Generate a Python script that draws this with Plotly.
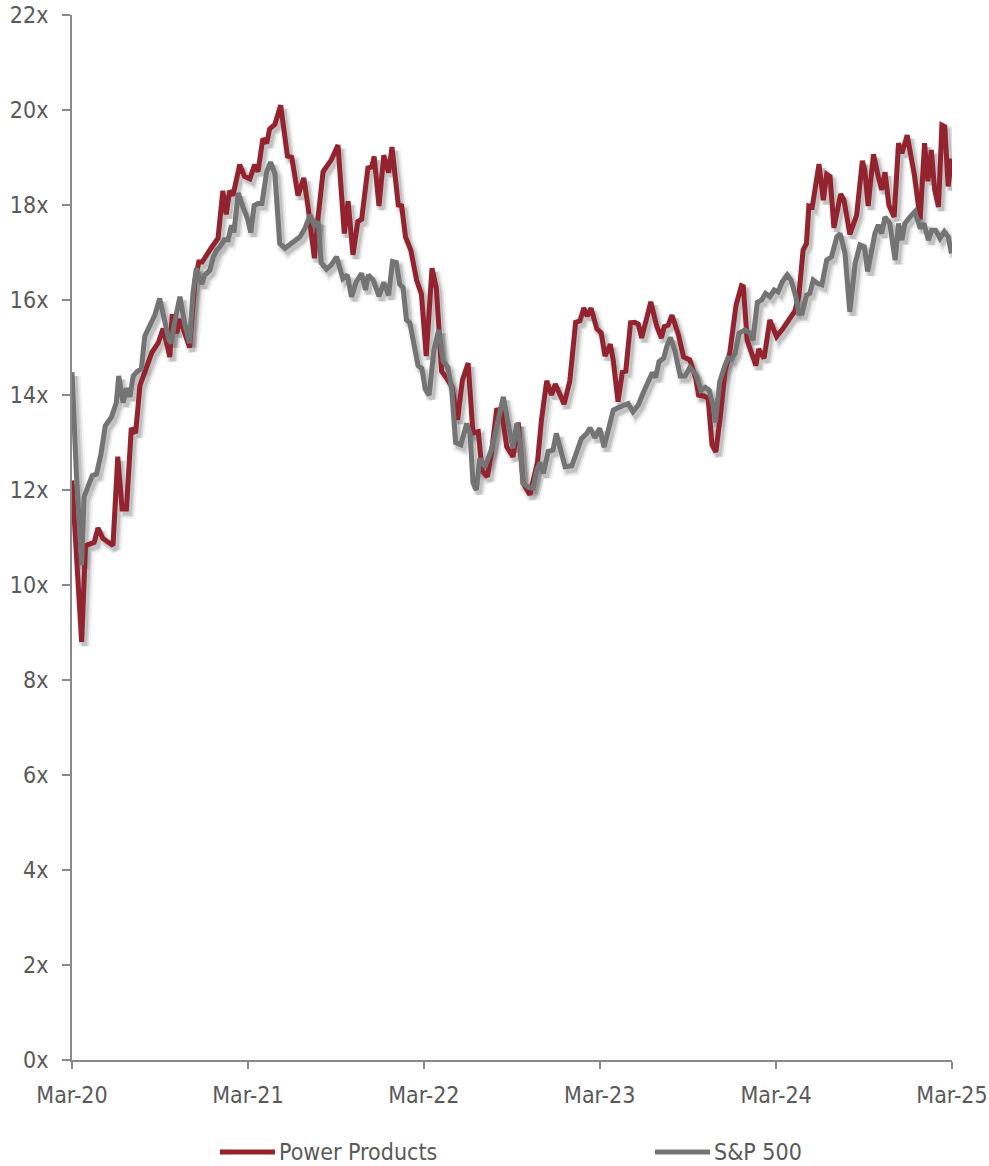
import pandas as pd
import plotly.graph_objects as go

# Forward P/E multiples, weekly-ish observations (days counted from 1 Mar 2020)
START = pd.Timestamp("2020-03-01")
END = pd.Timestamp("2025-03-01")

pp_days = [0, 20, 28, 46, 54, 64, 85, 95, 104, 113, 123, 132, 141, 151, 166, 179, 189, 203,
           208, 217, 224, 244, 255, 263, 270, 289, 303, 313, 320, 327, 334, 348, 358, 369, 379,
           386, 396, 404, 410, 421, 433, 447, 456, 469, 481, 490, 503, 511, 521, 538, 552, 565,
           573, 583, 593, 601, 614, 622, 627, 637, 647, 657, 664, 677, 684, 692, 703, 715, 725,
           735, 747, 756, 767, 777, 788, 800, 810, 822, 832, 843, 851, 862, 871, 881, 891, 902,
           915, 926, 936, 950, 966, 974, 985, 995, 1003, 1021, 1033, 1045, 1054, 1062, 1069,
           1077, 1089, 1098, 1106, 1117, 1123, 1133, 1142, 1149, 1159, 1168, 1175, 1182, 1192,
           1201, 1213, 1223, 1229, 1237, 1245, 1258, 1269, 1282, 1294, 1300, 1311, 1320, 1328,
           1336, 1345, 1355, 1365, 1378, 1389, 1393, 1401, 1410, 1419, 1425, 1436, 1448, 1462,
           1476, 1490, 1500, 1508, 1517, 1524, 1529, 1536, 1550, 1559, 1566, 1573, 1581, 1595,
           1602, 1614, 1628, 1640, 1645, 1652, 1663, 1673, 1680, 1687, 1695, 1706, 1715, 1722,
           1733, 1748, 1760, 1769, 1776, 1783, 1790, 1798, 1805, 1811, 1818, 1825]
pp_vals = [12.2, 8.8, 10.83, 10.9, 11.2, 10.98, 10.83, 12.7, 11.6, 11.6, 13.3, 13.2, 14.2, 14.5,
           14.9, 15.1, 15.4, 14.8, 15.7, 15.3, 15.6, 15.0, 16.4, 16.8, 16.8, 17.1, 17.3, 18.3,
           17.8, 18.3, 18.2, 18.85, 18.6, 18.55, 18.85, 18.7, 19.4, 19.3, 19.6, 19.7, 20.1, 19.03,
           19.0, 18.2, 18.57, 17.95, 16.88, 17.78, 18.7, 18.95, 19.26, 17.4, 18.08, 16.95, 17.65,
           17.7, 18.78, 18.8, 19.02, 17.98, 19.05, 18.68, 19.22, 18.0, 17.98, 17.33, 17.05, 16.42,
           16.13, 14.82, 16.67, 16.25, 14.5, 14.36, 14.18, 13.48, 14.31, 14.67, 13.2, 13.23, 12.4,
           12.28, 12.84, 13.68, 13.7, 12.91, 12.7, 13.42, 12.15, 11.9, 12.6, 13.47, 14.3, 14.0,
           14.23, 13.81, 14.3, 15.53, 15.56, 15.83, 15.66, 15.83, 15.39, 15.31, 14.82, 15.07,
           14.74, 13.86, 14.48, 14.5, 15.52, 15.53, 15.49, 15.2, 15.65, 15.96, 15.46, 15.2, 15.44,
           15.47, 15.68, 15.28, 14.8, 14.74, 14.36, 14.0, 13.98, 13.93, 12.95, 12.8, 13.54, 14.5,
           14.9, 15.9, 16.3, 16.28, 15.15, 14.88, 14.62, 14.97, 14.77, 15.58, 15.23, 15.41, 15.65,
           15.77, 16.07, 17.05, 17.19, 17.98, 17.96, 18.86, 18.1, 18.65, 18.6, 17.52, 18.23, 18.1,
           17.38, 17.78, 18.93, 18.74, 17.98, 19.07, 18.6, 18.32, 18.69, 18.0, 17.75, 19.3, 19.09,
           19.47, 18.63, 17.7, 19.3, 18.5, 19.16, 18.32, 17.96, 19.68, 19.65, 18.39, 18.98]

sp_days = [0, 9, 20, 25, 33, 42, 51, 60, 69, 82, 92, 97, 106, 113, 120, 127, 134, 144, 151, 161,
           172, 182, 191, 201, 206, 213, 224, 234, 244, 251, 258, 269, 275, 286, 293, 300, 307,
           316, 324, 331, 336, 345, 355, 364, 371, 378, 386, 394, 404, 412, 421, 431, 442, 452,
           462, 473, 483, 494, 503, 511, 517, 528, 538, 549, 562, 571, 580, 590, 601, 609, 615,
           625, 637, 647, 657, 665, 673, 680, 687, 694, 701, 710, 718, 726, 733, 741, 751, 761,
           770, 780, 788, 796, 807, 819, 826, 832, 839, 846, 857, 871, 884, 895, 905, 915, 923,
           931, 936, 948, 957, 964, 971, 978, 988, 998, 1005, 1015, 1023, 1037, 1047, 1057, 1068,
           1075, 1085, 1095, 1104, 1113, 1123, 1133, 1144, 1154, 1164, 1175, 1185, 1196, 1204,
           1211, 1218, 1228, 1234, 1242, 1251, 1262, 1272, 1282, 1295, 1305, 1314, 1322, 1331,
           1335, 1344, 1354, 1361, 1368, 1376, 1384, 1396, 1407, 1413, 1422, 1431, 1439, 1448,
           1457, 1465, 1474, 1484, 1492, 1502, 1508, 1515, 1524, 1531, 1538, 1547, 1556, 1566,
           1576, 1587, 1594, 1604, 1614, 1625, 1635, 1644, 1651, 1659, 1666, 1673, 1680, 1687,
           1697, 1708, 1715, 1722, 1728, 1739, 1749, 1760, 1768, 1777, 1784, 1792, 1801, 1810,
           1818, 1825]
sp_vals = [14.48, 12.37, 10.42, 11.85, 12.07, 12.3, 12.34, 12.75, 13.35, 13.54, 13.84, 14.4,
           13.84, 14.14, 13.96, 14.4, 14.48, 14.56, 15.24, 15.43, 15.69, 16.03, 15.61, 15.16,
           15.09, 15.54, 16.07, 15.5, 15.09, 16.14, 16.67, 16.33, 16.52, 16.63, 16.9, 17.05,
           17.12, 17.27, 17.27, 17.57, 17.42, 18.25, 17.95, 17.72, 17.42, 17.99, 18.03, 18.03,
           18.7, 18.9, 18.66, 17.19, 17.09, 17.16, 17.26, 17.33, 17.5, 17.79, 17.56, 17.65, 16.78,
           16.65, 16.74, 16.91, 16.45, 16.53, 16.07, 16.39, 16.56, 16.21, 16.53, 16.42, 16.08,
           16.37, 16.1, 16.81, 16.79, 16.33, 16.26, 15.58, 15.52, 15.0, 14.62, 14.56, 14.12, 14.0,
           14.95, 15.37, 14.72, 14.58, 14.1, 13.0, 12.95, 13.4, 13.19, 12.15, 12.0, 12.66, 12.49,
           12.87, 13.5, 13.96, 13.4, 12.88, 13.4, 12.91, 12.14, 12.05, 12.04, 12.4, 12.58, 12.35,
           12.81, 12.84, 13.19, 12.82, 12.49, 12.51, 12.77, 13.08, 13.19, 13.31, 13.1, 13.3, 12.9,
           13.26, 13.68, 13.73, 13.77, 13.82, 13.65, 13.79, 14.04, 14.26, 14.47, 14.37, 14.7,
           14.78, 15.02, 15.21, 14.93, 14.4, 14.4, 14.58, 14.42, 14.1, 14.16, 14.1, 13.75, 13.42,
           14.28, 14.6, 14.78, 14.75, 14.88, 15.3, 15.37, 15.3, 15.15, 15.95, 16.0, 16.14, 16.07,
           16.21, 16.17, 16.39, 16.53, 16.42, 16.07, 15.72, 15.72, 16.1, 16.14, 16.42, 16.35,
           16.32, 16.84, 16.91, 17.33, 17.4, 16.98, 15.75, 16.77, 17.16, 17.12, 16.6, 17.09, 17.4,
           17.58, 17.4, 17.75, 17.61, 16.84, 17.61, 17.26, 17.61, 17.75, 17.86, 17.51, 17.61,
           17.26, 17.47, 17.47, 17.3, 17.44, 17.33, 16.98]

x_tick_labels = ["Mar-20", "Mar-21", "Mar-22", "Mar-23", "Mar-24", "Mar-25"]
x_tick_dates = ["2020-03-01", "2021-03-01", "2022-03-01", "2023-03-01", "2024-03-01", "2025-03-01"]

RED = "#93232E"
GREY = "#747474"
AXIS = "#888888"
TEXT = "#595959"
FONT = "Tahoma, 'DejaVu Sans Condensed', 'DejaVu Sans', sans-serif"
FSIZE = 23

series = [
    ("Power Products", pp_days, pp_vals, RED),
    ("S&P 500", sp_days, sp_vals, GREY),
]

W, H = 989, 1166
L, R, T, B = 72, 37, 15, 106
plot_w = W - L - R
plot_h = H - T - B

# soft drop shadow: same data on a hidden pair of axes whose ranges are nudged
# so the copy lands a few pixels right and below the visible lines
SHADOW_DX_PX, SHADOW_DY_PX = 3, 4
span_days = (END - START).days
shift_days = pd.Timedelta(days=SHADOW_DX_PX * span_days / plot_w)
shift_val = SHADOW_DY_PX * 22 / plot_h

fig = go.Figure()

for name, days, vals, color in series:
    dates = START + pd.to_timedelta(days, unit="D")
    for width, alpha in [(12, 0.05), (8, 0.09), (5, 0.12)]:
        fig.add_trace(go.Scatter(
            x=dates, y=vals, mode="lines", xaxis="x", yaxis="y",
            line=dict(color=f"rgba(0,0,0,{alpha})", width=width),
            hoverinfo="skip", showlegend=False,
        ))

for name, days, vals, color in series:
    dates = START + pd.to_timedelta(days, unit="D")
    fig.add_trace(go.Scatter(
        x=dates, y=vals, mode="lines", name=name, xaxis="x2", yaxis="y2",
        line=dict(color=color, width=5), showlegend=False,
    ))

fig.update_layout(
    width=W, height=H,
    margin=dict(l=L, r=R, t=T, b=B, autoexpand=False),
    paper_bgcolor="white", plot_bgcolor="white",
    font=dict(family=FONT, size=FSIZE, color=TEXT),
    showlegend=False,
    xaxis=dict(type="date", range=[START - shift_days, END - shift_days], visible=False,
               fixedrange=True, automargin=False),
    yaxis=dict(range=[shift_val, 22 + shift_val], visible=False, fixedrange=True,
               automargin=False),
    xaxis2=dict(
        type="date", overlaying="x", anchor="y2", range=[START, END],
        tickvals=x_tick_dates, ticktext=x_tick_labels, automargin=False,
        ticklabeloverflow="allow",
        showgrid=False, zeroline=False, showline=True, linecolor=AXIS, linewidth=2,
        ticks="outside", ticklen=7, tickwidth=2, tickcolor=AXIS,
        ticklabelstandoff=6,
        tickfont=dict(family=FONT, size=FSIZE, color=TEXT),
    ),
    yaxis2=dict(
        overlaying="y", anchor="x2", range=[0, 22], tick0=0, dtick=2, ticksuffix="x",
        automargin=False, ticklabeloverflow="allow",
        showgrid=False, zeroline=False, showline=True, linecolor=AXIS, linewidth=2,
        ticks="outside", ticklen=8, tickwidth=2, tickcolor=AXIS,
        ticklabelstandoff=9,
        tickfont=dict(family=FONT, size=FSIZE, color=TEXT),
    ),
)

# legend row below the plot
def px_x(px):
    return (px - L) / plot_w

def px_y(py):
    return (H - B - py) / plot_h

legend_y = px_y(1152)
legend_items = [("Power Products", RED, 220, 275), ("S&P 500", GREY, 655, 710)]
for label, color, x0, x1 in legend_items:
    fig.add_shape(type="line", xref="paper", yref="paper",
                  x0=px_x(x0), x1=px_x(x1), y0=legend_y, y1=legend_y,
                  line=dict(color=color, width=5))
    fig.add_annotation(text=label, xref="paper", yref="paper",
                       x=px_x(x1 + 2), y=legend_y, xanchor="left", yanchor="middle",
                       showarrow=False, font=dict(family=FONT, size=FSIZE, color=TEXT))

fig.write_html("out.html")
